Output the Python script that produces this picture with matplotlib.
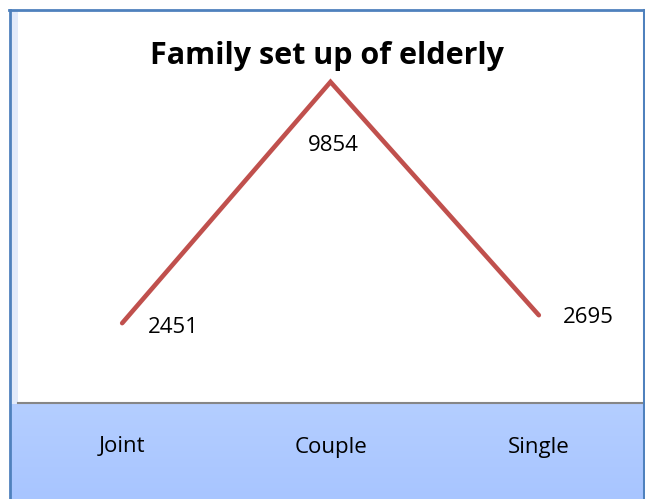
import numpy as np
import matplotlib
matplotlib.use('Agg')
import matplotlib.pyplot as plt
from matplotlib.patches import Rectangle

# chart data
categories = ['Joint', 'Couple', 'Single']
counts = [2451, 9854, 2695]
title = 'Family set up of elderly'

W, H = 645, 499
fig = plt.figure(figsize=(W / 100, H / 100), dpi=100)
fig.patch.set_facecolor('white')

# blue band behind the category labels (light gradient)
band = fig.add_axes([0, 0, 1, (H - 404) / H], zorder=0)
grad = np.linspace(0, 1, 100).reshape(-1, 1)
top_c = np.array([0xB4, 0xCE, 0xFF]) / 255
bot_c = np.array([0xA8, 0xC5, 0xFF]) / 255
img = top_c + (bot_c - top_c) * grad
band.imshow(img[:, None, :].repeat(2, axis=1), aspect='auto', extent=[0, 1, 0, 1], origin='upper')
band.set_xlim(0, 1)
band.set_ylim(0, 1)
band.axis('off')

# outer frame
fig.patches.append(Rectangle((0, 0), 10 / W, 1, transform=fig.transFigure,
                             facecolor='white', edgecolor='none', zorder=1))
fig.patches.append(Rectangle((11 / W, (H - 404) / H), 7 / W, (404 - 11) / H, transform=fig.transFigure,
                             facecolor='#E2EAFA', edgecolor='none', zorder=1))
fig.lines.append(plt.Line2D([10 / W, 10 / W], [0, (H - 10) / H], transform=fig.transFigure,
                            color='#4F81BD', lw=2, zorder=3))
fig.lines.append(plt.Line2D([643.5 / W, 643.5 / W], [0, (H - 10) / H], transform=fig.transFigure,
                            color='#4F81BD', lw=2.2, zorder=3))
fig.lines.append(plt.Line2D([9 / W, 644.5 / W], [(H - 10) / H, (H - 10) / H], transform=fig.transFigure,
                            color='#4F81BD', lw=2, zorder=3))

ax = fig.add_axes([18 / W, (H - 403) / H, (643 - 18) / W, (403 - 12) / H], zorder=2)
ax.set_facecolor('white')
x = np.arange(len(categories))
ax.plot(x, counts, color='#C0504D', lw=3.3, solid_capstyle='round', solid_joinstyle='miter')
ax.set_xlim(-0.5, len(categories) - 0.5)
ax.set_ylim(0, 12000)
ax.set_xticks([])
ax.set_yticks([])
for s in ['left', 'right', 'top']:
    ax.spines[s].set_visible(False)
ax.spines['bottom'].set_color('#868686')
ax.spines['bottom'].set_linewidth(1.5)

font = ['Open Sans', 'DejaVu Sans']
offsets = [(51, -4), (3, -64), (49, -2)]
for xi, v, off in zip(x, counts, offsets):
    ax.annotate(str(v), (xi, v), xytext=off, textcoords='offset pixels',
                ha='center', va='center', fontsize=16, family=font)

for xi, c in zip(x, categories):
    ax.annotate(c, (xi, 0), xytext=(0, -44), textcoords='offset pixels',
                xycoords=('data', 'axes fraction'), ha='center', va='center',
                fontsize=16, family=font, annotation_clip=False)

fig.text(327 / W, 1 - 56 / H, title, ha='center', va='center',
         fontsize=22, fontweight='bold', family=font)

fig.savefig('out.png', dpi=100)
